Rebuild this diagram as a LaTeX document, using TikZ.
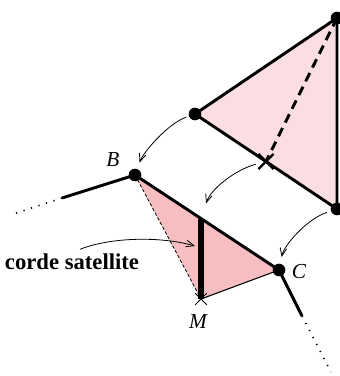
\documentclass[tikz,border=0pt]{standalone}
\usepackage{fontspec}
\setmainfont{Liberation Serif}
\usetikzlibrary{arrows.meta,shapes.misc}
\definecolor{rosepale}{RGB}{251,222,225}
\definecolor{rosefonce}{RGB}{247,190,193}

\begin{document}
\begin{tikzpicture}[x=0.75pt,y=-0.75pt,
    sommet/.style={circle,fill=black,inner sep=0pt,minimum size=9.5pt},
    croix/.style={cross out,draw,inner sep=0pt,minimum size=8pt},
    arete/.style={line width=2.2pt},
    fleche/.style={line width=0.6pt,-{Straight Barb[length=6pt,width=5pt]}},
    points/.style={line width=1.2pt,dash pattern=on 0.9pt off 5pt},
    lettre/.style={font=\fontsize{16}{19}\selectfont\itshape}]
    \useasboundingbox (0,0) rectangle (340,376);

    % Triangle du haut
    \coordinate (T) at (337,18);
    \coordinate (L) at (195,114);
    \coordinate (R) at (337,209);
    \coordinate (X) at (266,161.5);
    \fill[rosepale] (T) -- (L) -- (R) -- cycle;
    \draw[arete,line join=round] (L) -- (T) -- (R) -- cycle;
    \draw[arete,dash pattern=on 7pt off 4.5pt] (T) -- (X);
    \node[croix,line width=1.8pt,minimum size=9.5pt] (xX) at (X) {};

    % Triangle du bas
    \coordinate (B) at (135,175);
    \coordinate (C) at (279,270);
    \coordinate (M) at (201,299);
    \coordinate (H) at (201,218.5);
    \fill[rosefonce] (B) -- (C) -- (M) -- cycle;
    \draw[line width=0.6pt,dash pattern=on 2.5pt off 1.5pt] (B) -- (M);
    \draw[line width=0.8pt] (M) -- (C);
    \draw[arete] (B) -- (C);
    \draw[line width=4pt] (H) -- (M);
    \node[croix,line width=0.7pt] (xM) at (M) {};

    % Prolongements
    \coordinate (Bg) at (62,198);
    \coordinate (Bp) at (10,215);
    \coordinate (Cb) at (302,316);
    \coordinate (Cp) at (331,372);
    \draw[arete] (B) -- (Bg);
    \draw[points] (Bg) -- (Bp);
    \draw[arete] (C) -- (Cb);
    \draw[points] (Cb) -- (Cp);

    % Sommets
    \node[sommet] (dT) at (T) {};
    \node[sommet] (dL) at (L) {};
    \node[sommet] (dR) at (R) {};
    \node[sommet] (dB) at (B) {};
    \node[sommet] (dC) at (C) {};

    % Etiquettes
    \node[lettre] (labB) at (113,160) {B};
    \node[lettre] (labC) at (299,272) {C};
    \node[lettre] (labM) at (198,322) {M};
    \node[font=\fontsize{17}{20}\selectfont\bfseries] (corde) at (72,262) {corde satellite};
    \coordinate (pc) at (195,246);

    % Fleches
    \draw[fleche,shorten <=2pt,shorten >=5pt] (dL) .. controls +(-28,10) and +(8,-22) .. (dB);
    \draw[fleche,shorten <=2pt,shorten >=12pt] (xX) .. controls +(-30,8) and +(10,-30) .. (H);
    \draw[fleche,shorten <=3pt,shorten >=5pt] (dR) .. controls +(-30,10) and +(5,-25) .. (dC);
    \draw[fleche] ([xshift=6pt]corde.north) .. controls +(30,-12) and +(-35,-10) .. (pc);
\end{tikzpicture}
\end{document}
